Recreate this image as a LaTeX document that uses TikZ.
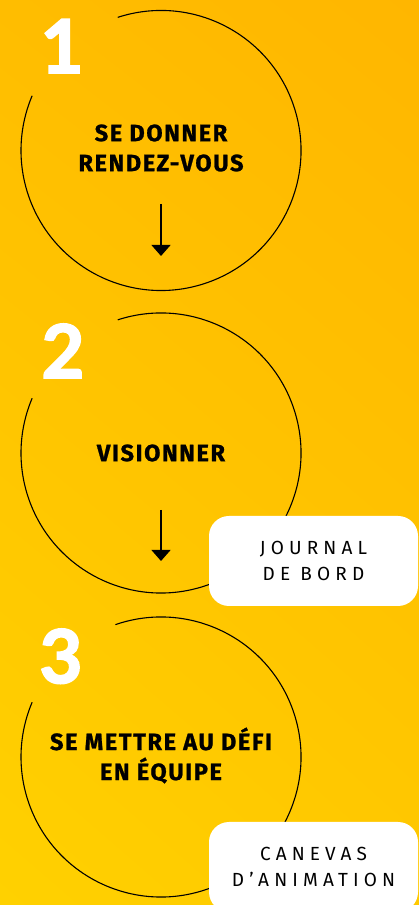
\documentclass[tikz,border=0pt]{standalone}
\usepackage{fontspec}
\setmainfont{Fira Sans}[BoldFeatures={FakeBold=1}]
\newfontfamily\numfont{Lato}[BoldFeatures={FakeBold=2.5}]
\usetikzlibrary{arrows.meta,shadings}
\definecolor{bgtop}{RGB}{255,182,0}
\definecolor{bgbot}{RGB}{255,209,0}
\definecolor{bgul}{RGB}{255,189,0}
\definecolor{bglr}{RGB}{255,201,0}
\begin{document}
\begin{tikzpicture}[x=1pt,y=1pt,
  ring/.style={line width=1.1pt},
  titre/.style={font=\fontsize{23.5}{30}\selectfont\bfseries\addfontfeature{LetterSpace=7},align=center,inner sep=0pt},
  chiffre/.style={font=\numfont\fontsize{74}{74}\selectfont\bfseries,text=white,anchor=base,inner sep=0pt},
  outil/.style={fill=white,rounded corners=20pt,minimum width=209pt,minimum height=90pt,align=center,font=\fontsize{19}{26}\selectfont\addfontfeature{LetterSpace=27}},
  fleche/.style={line width=1.2pt,-{Triangle[width=19pt,length=11pt]}}]
\clip (0,0) rectangle (419,905);
\shade[upper right=bgtop,lower left=bgbot,upper left=bgul,lower right=bglr] (0,0) rectangle (419,905); %fond
\coordinate (c1) at (161,754.5);
\coordinate (c2) at (161,452);
\coordinate (c3) at (161,148);
\draw[ring] (c1) ++(108:140) arc[start angle=108,end angle=-203,radius=140]; %cercle 1
\draw[ring] (c2) ++(108:140) arc[start angle=108,end angle=-203,radius=140]; %cercle 2
\draw[ring] (c3) ++(109:140) arc[start angle=109,end angle=-203,radius=140]; %cercle 3
\node[chiffre] (n1) at (62,832) {1};
\node[chiffre] (n2) at (63,527) {2};
\node[chiffre] (n3) at (61,222) {3};
\node[titre] (t1) at (161,757) {SE DONNER\\RENDEZ-VOUS};
\node[titre] (t2) at (c2) {VISIONNER};
\node[titre] (t3) at (161,149.5) {SE METTRE AU DÉFI\\EN ÉQUIPE};
\coordinate (f1a) at (161,701); \coordinate (f1b) at (161,649);
\coordinate (f2a) at (161,395); \coordinate (f2b) at (161,344);
\draw[fleche] (f1a) -- (f1b);
\draw[fleche] (f2a) -- (f2b);
\node[outil] (journal) at (313.5,344) {JOURNAL\\DE BORD};
\node[outil] (canevas) at (313.5,38) {CANEVAS\\D’ANIMATION};
\end{tikzpicture}
\end{document}
